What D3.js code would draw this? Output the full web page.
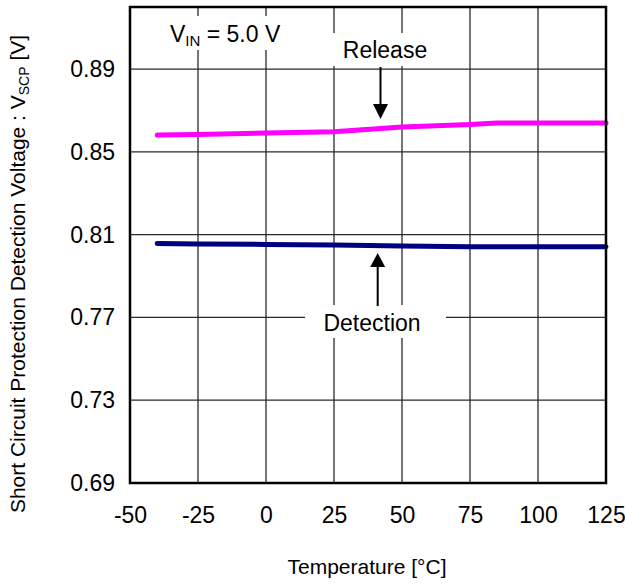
<!DOCTYPE html>
<html>
<head>
<meta charset="utf-8">
<script src="https://cdn.jsdelivr.net/npm/d3@7"></script>
<style>
  html, body { margin: 0; padding: 0; background: #fff; }
  svg { display: block; font-family: "Liberation Sans", Arial, Helvetica, sans-serif; }
</style>
</head>
<body>
<svg id="chart" width="625" height="586"></svg>
<script>
// ---- data ----
const temperatures = [-40, -25, 0, 25, 50, 75, 85, 100, 125];
const releaseV =     [0.8581, 0.8584, 0.8591, 0.8597, 0.8620, 0.8632, 0.8639, 0.8639, 0.8639];
const detectionV =   [0.8057, 0.8055, 0.8053, 0.8050, 0.8045, 0.8042, 0.8042, 0.8042, 0.8041];
const xTicks = [-50, -25, 0, 25, 50, 75, 100, 125];
const yTicks = [0.69, 0.73, 0.77, 0.81, 0.85, 0.89];
const xDomain = [-50, 125];
const yDomain = [0.69, 0.92];

const svg = d3.select("#chart");
const L = 130, R = 606, T = 7, B = 483;
const x = d3.scaleLinear().domain(xDomain).range([L, R]);
const y = d3.scaleLinear().domain(yDomain).range([B, T]);

// grid
const grid = svg.append("g").attr("stroke", "#2a2a2a").attr("stroke-width", 1.3);
grid.selectAll("line.v").data(xTicks.slice(1, -1)).enter().append("line")
  .attr("x1", d => x(d)).attr("x2", d => x(d)).attr("y1", T).attr("y2", B);
grid.selectAll("line.h").data(yTicks.slice(1)).enter().append("line")
  .attr("x1", L).attr("x2", R).attr("y1", d => y(d)).attr("y2", d => y(d));

// white label boxes over the grid
const boxes = [
  [163, 16, 292, 50],
  [330, 33, 442, 66],
  [305, 305, 446, 338]
];
svg.selectAll("rect.box").data(boxes).enter().append("rect")
  .attr("x", d => d[0]).attr("y", d => d[1])
  .attr("width", d => d[2] - d[0]).attr("height", d => d[3] - d[1])
  .attr("fill", "#fff");

// series
const line = d3.line().x(d => x(d[0])).y(d => y(d[1]));
svg.append("path").datum(temperatures.map((t, i) => [t, releaseV[i]]))
  .attr("d", line).attr("fill", "none").attr("stroke", "#ff00ff")
  .attr("stroke-width", 5).attr("stroke-linecap", "round").attr("stroke-linejoin", "round");
svg.append("path").datum(temperatures.map((t, i) => [t, detectionV[i]]))
  .attr("d", line).attr("fill", "none").attr("stroke", "#000080")
  .attr("stroke-width", 5).attr("stroke-linecap", "round").attr("stroke-linejoin", "round");

// border
svg.append("rect").attr("x", L).attr("y", T).attr("width", R - L).attr("height", B - T)
  .attr("fill", "none").attr("stroke", "#000").attr("stroke-width", 2.5);

// axes labels (tick text)
const xAxis = d3.axisBottom(x).tickValues(xTicks).tickSize(0).tickPadding(0).tickFormat(d => String(d));
const gx = svg.append("g").attr("transform", `translate(0,${B})`).call(xAxis);
gx.select(".domain").remove();
gx.selectAll("text").attr("font-size", 23).attr("fill", "#000")
  .attr("font-family", "'Liberation Sans', Arial, sans-serif").attr("dy", "1.75em");

const yAxis = d3.axisLeft(y).tickValues(yTicks).tickSize(0).tickPadding(15).tickFormat(d3.format(".2f"));
const gy = svg.append("g").attr("transform", `translate(${L},0)`).call(yAxis);
gy.select(".domain").remove();
gy.selectAll("text").attr("font-size", 23).attr("fill", "#000")
  .attr("font-family", "'Liberation Sans', Arial, sans-serif");

// axis titles
svg.append("text").attr("x", 367).attr("y", 574).attr("text-anchor", "middle")
  .attr("font-size", 21).text("Temperature [°C]");

const yt = svg.append("text").attr("transform", "translate(25,274) rotate(-90)")
  .attr("text-anchor", "middle").attr("font-size", 21);
yt.append("tspan").text("Short Circuit Protection Detection Voltage : V");
yt.append("tspan").attr("font-size", 14).attr("dy", 4).text("SCP");
yt.append("tspan").attr("dy", -4).text(" [V]");

// annotations
const vin = svg.append("text").attr("x", 170).attr("y", 42).attr("font-size", 23);
vin.append("tspan").text("V");
vin.append("tspan").attr("font-size", 15).attr("dy", 4).text("IN");
vin.append("tspan").attr("dy", -4).text(" = 5.0 V");

svg.append("text").attr("x", 385).attr("y", 58).attr("text-anchor", "middle")
  .attr("font-size", 23).text("Release");
svg.append("text").attr("x", 372).attr("y", 331).attr("text-anchor", "middle")
  .attr("font-size", 23).text("Detection");

// arrows
function arrow(xp, yFrom, yTip, yBase) {
  svg.append("line").attr("x1", xp).attr("x2", xp).attr("y1", yFrom).attr("y2", yBase)
    .attr("stroke", "#000").attr("stroke-width", 2);
  svg.append("path").attr("d", `M${xp - 7.5},${yBase} L${xp + 7.5},${yBase} L${xp},${yTip} Z`)
    .attr("fill", "#000");
}
arrow(380.5, 67, 119, 104);
arrow(377.7, 306, 253, 267);
</script>
</body>
</html>
